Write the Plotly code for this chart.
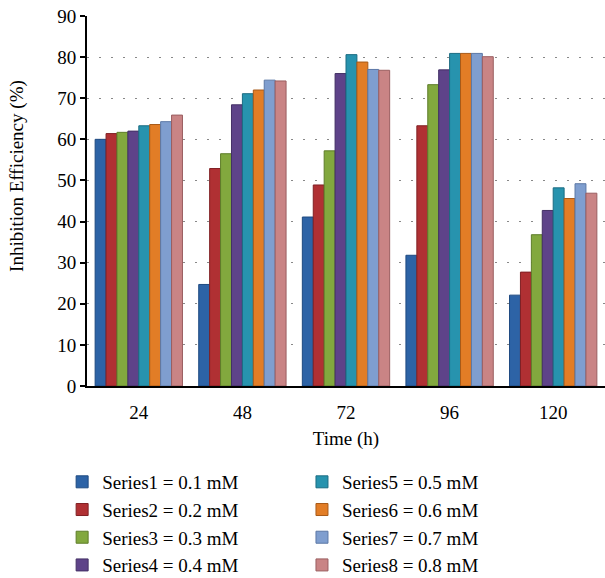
import plotly.graph_objects as go

times = ["24", "48", "72", "96", "120"]
series_names = ["Series1 = 0.1 mM", "Series2 = 0.2 mM", "Series3 = 0.3 mM", "Series4 = 0.4 mM",
                "Series5 = 0.5 mM", "Series6 = 0.6 mM", "Series7 = 0.7 mM", "Series8 = 0.8 mM"]
s1 = [60.0, 24.7, 41.1, 31.8, 22.1]
s2 = [61.4, 52.9, 48.9, 63.3, 27.7]
s3 = [61.7, 56.5, 57.2, 73.3, 36.8]
s4 = [62.0, 68.4, 76.0, 76.9, 42.7]
s5 = [63.3, 71.1, 80.6, 80.9, 48.2]
s6 = [63.6, 72.0, 78.8, 80.9, 45.6]
s7 = [64.3, 74.4, 77.0, 80.9, 49.2]
s8 = [65.9, 74.2, 76.8, 80.1, 46.9]
values = [s1, s2, s3, s4, s5, s6, s7, s8]

colors = ["#2D63A6", "#B03033", "#82A83E", "#5E4389", "#2793AE", "#E27D26", "#7F9ECF", "#C98485"]
edges = ["#1E4A80", "#802024", "#5E7D2A", "#433065", "#1B6C82", "#A85A18", "#5C78A6", "#9A5E60"]

font = "Liberation Serif"
fig = go.Figure()
for i, (name, vals) in enumerate(zip(series_names, values)):
    fig.add_trace(go.Bar(
        x=times, y=vals, name=name,
        marker=dict(color=colors[i], line=dict(color=edges[i], width=1)),
        legend="legend" if i < 4 else "legend2",
    ))

fig.update_layout(
    width=605, height=578,
    margin=dict(l=87, r=0, t=16, b=192),
    paper_bgcolor="white", plot_bgcolor="white",
    barmode="group", bargap=0.157, bargroupgap=0.0,
    font=dict(family=font, size=19, color="black"),
    legend=dict(x=-0.048, y=0.199, xanchor="left", yanchor="top", yref="container",
                font=dict(family=font, size=19, color="black"), bgcolor="rgba(0,0,0,0)",
                tracegroupgap=0),
    legend2=dict(x=0.415, y=0.199, xanchor="left", yanchor="top", yref="container",
                 font=dict(family=font, size=19, color="black"), bgcolor="rgba(0,0,0,0)",
                 tracegroupgap=0),
    xaxis=dict(type="category", showline=True, linecolor="black", linewidth=2,
               ticks="", showgrid=False, tickfont=dict(size=19),
               ticklabelstandoff=8,
               title=dict(text="Time (h)", font=dict(size=19), standoff=10)),
    yaxis=dict(range=[0, 90], dtick=10, showline=True, linecolor="black", linewidth=2,
               ticks="outside", ticklen=5, tickwidth=1.5, tickcolor="black",
               showgrid=True, gridcolor="#888888", gridwidth=1, griddash="2px,10px",
               tickfont=dict(size=19), zeroline=False),
    annotations=[dict(text="Inhibition Efficiency (%)", textangle=-90, showarrow=False,
                      xref="paper", yref="paper", x=-0.135, y=0.568,
                      xanchor="center", yanchor="middle",
                      font=dict(family=font, size=19, color="black"))],
)

fig.write_html("out.html")
